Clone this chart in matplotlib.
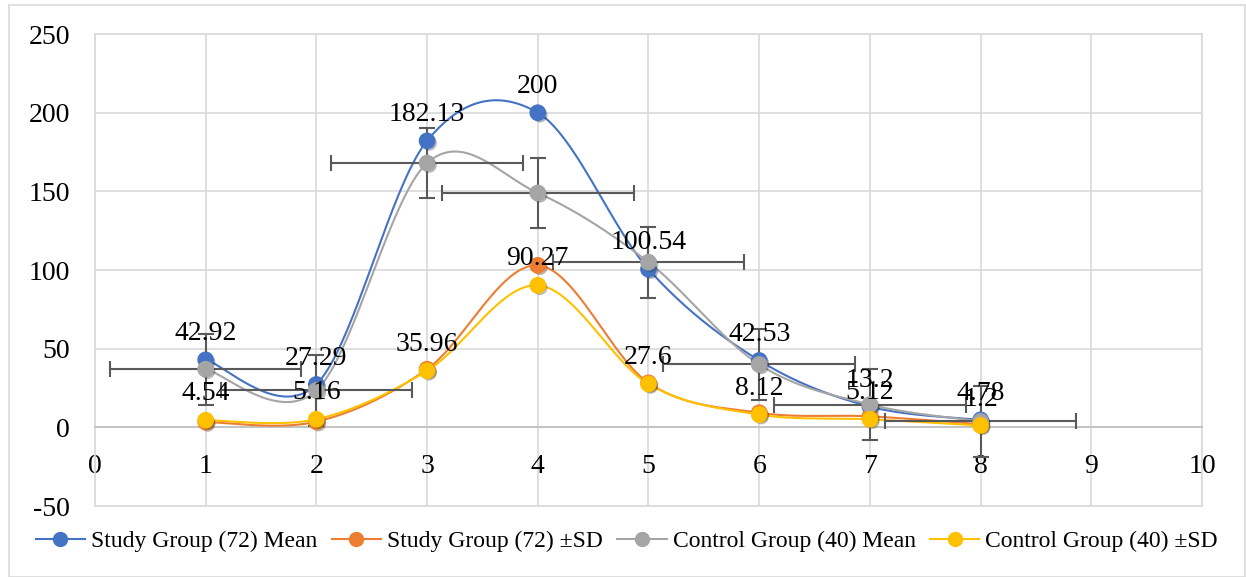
import numpy as np
import matplotlib.pyplot as plt
from matplotlib.patches import Rectangle
import matplotlib.patheffects as pe

plt.rcParams['font.family'] = ['Liberation Serif', 'DejaVu Serif']
plt.rcParams['axes.unicode_minus'] = False

x = [1, 2, 3, 4, 5, 6, 7, 8]
study_mean = [42.92, 27.29, 182.13, 200, 100.54, 42.53, 13.2, 4.78]
study_sd = [3.4, 3.6, 37.0, 103.0, 28.3, 9.3, 7.0, 2.0]
control_mean = [37.0, 23.5, 168.0, 149.0, 105.0, 40.0, 14.5, 3.8]
control_sd = [4.54, 5.16, 35.96, 90.27, 27.6, 8.12, 5.12, 1.2]

control_xerr = 0.865
control_yerr = 22.5

labels = ['Study Group (72) Mean', 'Study Group (72) ±SD',
          'Control Group (40) Mean', 'Control Group (40) ±SD']
colors = ['#4472C4', '#ED7D31', '#A5A5A5', '#FFC000']


def smooth(xs, ys, n=40):
    # excel style smoothed line (catmull-rom -> bezier)
    p = np.column_stack([xs, ys]).astype(float)
    p = np.vstack([p[0], p, p[-1]])
    out = []
    t = np.linspace(0, 1, n)[:, None]
    for i in range(1, len(p) - 2):
        p0, p1, p2, p3 = p[i - 1], p[i], p[i + 1], p[i + 2]
        c1 = p1 + (p2 - p0) / 6
        c2 = p2 - (p3 - p1) / 6
        seg = ((1 - t) ** 3) * p1 + 3 * ((1 - t) ** 2) * t * c1 + 3 * (1 - t) * t ** 2 * c2 + t ** 3 * p2
        out.append(seg)
    out = np.vstack(out)
    return out[:, 0], out[:, 1]


fig = plt.figure(figsize=(12.46, 5.77), dpi=100)
fig.patches.append(Rectangle((0.007, 0.0), 0.992, 0.991, transform=fig.transFigure,
                             fill=False, edgecolor='#D9D9D9', lw=1.2))
ax = fig.add_axes([0.0762, 0.123, 0.8885, 0.818])

shadow = [pe.SimplePatchShadow(offset=(1.5, -1.5), alpha=0.35), pe.Normal()]

series = [study_mean, study_sd, control_mean, control_sd]
handles = []
for ys, col, lab in zip(series, colors, labels):
    sx, sy = smooth(x, ys)
    ax.plot(sx, sy, color=col, lw=1.5, zorder=3)
    ax.plot(x, ys, 'o', color=col, ms=11, zorder=4, path_effects=shadow)
    h, = ax.plot([], [], '-o', color=col, ms=10, lw=1.5, label=lab)
    handles.append(h)

ax.errorbar(x, control_mean, xerr=control_xerr, yerr=control_yerr, fmt='none',
            ecolor='#595959', elinewidth=1.5, capsize=6, capthick=1.5, zorder=3.5)

for xi, v in zip(x, study_mean):
    ax.annotate(f'{v:g}', (xi, v), xytext=(0, 10), textcoords='offset points',
                ha='center', va='bottom', fontsize=20, zorder=6)
for xi, v in zip(x, control_sd):
    ax.annotate(f'{v:g}', (xi, v), xytext=(0, 10), textcoords='offset points',
                ha='center', va='bottom', fontsize=20, zorder=6)

ax.set_xlim(0, 10)
ax.set_ylim(-50, 250)
ax.set_xticks(range(0, 11))
ax.set_yticks(range(-50, 251, 50))
ax.grid(True, color='#D9D9D9', lw=1.2, zorder=0)
ax.set_axisbelow(True)
for s in ['top', 'right', 'left']:
    ax.spines[s].set_color('#D9D9D9')
    ax.spines[s].set_linewidth(1.2)
ax.spines['bottom'].set_position(('data', 0))
ax.spines['bottom'].set_color('#BFBFBF')
ax.spines['bottom'].set_linewidth(1.2)
ax.plot([0, 10], [-50, -50], color='#D9D9D9', lw=1.2, clip_on=False, zorder=1)
ax.tick_params(length=0, labelsize=20)
ax.tick_params(axis='x', pad=19)
ax.tick_params(axis='y', pad=18)

fig.legend(handles=handles, loc='center', bbox_to_anchor=(0.503, 0.062), ncol=4, frameon=False,
           fontsize=17, handlelength=2.1, columnspacing=0.6, handletextpad=0.25)

fig.savefig('out.png', dpi=100)
